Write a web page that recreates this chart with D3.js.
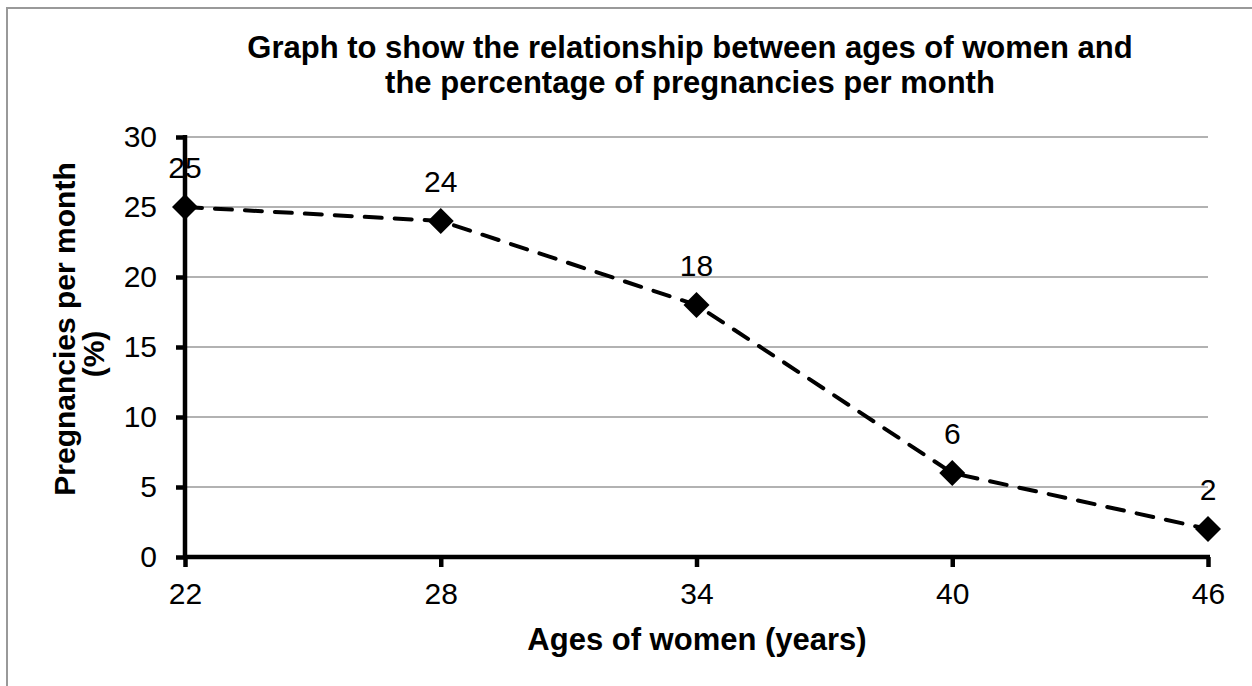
<!DOCTYPE html>
<html><head><meta charset="utf-8">
<script src="https://cdn.jsdelivr.net/npm/d3@7"></script>
<style>body{margin:0;background:#fff}svg{display:block}text{font-family:"Liberation Sans",Arial,sans-serif}</style>
</head><body>
<svg id="c" width="1252" height="686"></svg>
<script>
const ages = [22, 28, 34, 40, 46];
const pregnancies = [25, 24, 18, 6, 2];
const yTicks = [0, 5, 10, 15, 20, 25, 30];
const titleLines = ["Graph to show the relationship between ages of women and", "the percentage of pregnancies per month"];
const xTitle = "Ages of women (years)";
const yTitleLines = ["Pregnancies per month", "(%)"];

const FONT = "Liberation Sans, Arial, sans-serif";
const svg = d3.select("#c");
const m = {l: 185, r: 1208, t: 137, b: 557};
const x = d3.scaleLinear().domain([22, 46]).range([m.l, m.r]);
const y = d3.scaleLinear().domain([0, 30]).range([m.b, m.t]);

// frame
svg.append("rect").attr("x", 7).attr("y", 8).attr("width", 1300).attr("height", 700)
  .attr("fill", "none").attr("stroke", "#999").attr("stroke-width", 2);

// gridlines
svg.append("g").selectAll("line").data(yTicks.filter(d => d > 0)).join("line")
  .attr("x1", m.l).attr("x2", m.r).attr("y1", d => y(d)).attr("y2", d => y(d))
  .attr("stroke", "#999").attr("stroke-width", 1.5);

// y axis
const ya = svg.append("g").attr("transform", `translate(${m.l},0)`)
  .call(d3.axisLeft(y).tickValues(yTicks).tickSize(9).tickPadding(19));
ya.select(".domain").attr("stroke", "#000").attr("stroke-width", 4.5).attr("d", `M0,${m.t - 2}V${m.b + 2}`);
ya.selectAll(".tick line").attr("stroke", "#000").attr("stroke-width", 4.5);
ya.selectAll(".tick text").attr("font-size", 30).attr("fill", "#000").attr("font-family", FONT);

// x axis
const xa = svg.append("g").attr("transform", `translate(0,${m.b})`)
  .call(d3.axisBottom(x).tickValues(ages).tickSize(10).tickPadding(16));
xa.select(".domain").attr("stroke", "#000").attr("stroke-width", 4.5).attr("d", `M${m.l - 2},0H${m.r + 2}`);
xa.selectAll(".tick line").attr("stroke", "#000").attr("stroke-width", 4.5);
xa.selectAll(".tick text").attr("font-size", 30).attr("fill", "#000").attr("font-family", FONT);

const pts = ages.map((a, i) => ({a, v: pregnancies[i]}));

// dashed line
svg.append("path").datum(pts)
  .attr("d", d3.line().x(d => x(d.a)).y(d => y(d.v)))
  .attr("fill", "none").attr("stroke", "#000").attr("stroke-width", 4)
  .attr("stroke-dasharray", "17,13").attr("stroke-linecap", "round");

// markers
svg.append("g").selectAll("path").data(pts).join("path")
  .attr("transform", d => `translate(${x(d.a)},${y(d.v)})`)
  .attr("d", "M0,-13L13,0L0,13L-13,0Z").attr("fill", "#000");

// data labels
svg.append("g").selectAll("text").data(pts).join("text")
  .attr("x", d => x(d.a)).attr("y", d => y(d.v) - 29)
  .attr("text-anchor", "middle").attr("font-size", 30).attr("fill", "#000")
  .text(d => d.v);

// title
svg.append("g").selectAll("text").data(titleLines).join("text")
  .attr("x", 690).attr("y", (d, i) => 58 + i * 35)
  .attr("text-anchor", "middle").attr("font-size", 31).attr("font-weight", "bold").text(d => d);

// x title
svg.append("text").attr("x", 697).attr("y", 650).attr("text-anchor", "middle")
  .attr("font-size", 31).attr("font-weight", "bold").text(xTitle);

// y title
const yCenters = [329, 354];
svg.append("g").selectAll("text").data(yTitleLines).join("text")
  .attr("transform", (d, i) => `translate(${75 + i * 29},${yCenters[i]}) rotate(-90)`)
  .attr("text-anchor", "middle").attr("font-size", 30).attr("font-weight", "bold").text(d => d);
</script>
</body></html>
